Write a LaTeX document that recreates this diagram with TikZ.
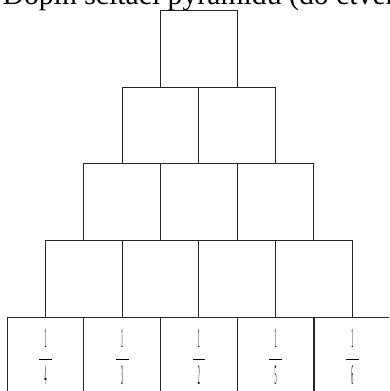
\documentclass[tikz,border=0pt]{standalone}
\usepackage{fontspec}
\setmainfont{Liberation Serif}
\usepackage{graphicx}
\tikzset{
  every picture/.style={line width=0.8pt},
  cell/.style={draw=black!85, minimum width=57.5pt, minimum height=57.5pt, inner sep=0pt, outer sep=0pt},
  heading/.style={font=\fontsize{22.3}{25}\selectfont, anchor=base west, inner sep=0pt},
}
% squeezed fraction in the bottom cells
\newcommand{\thinfrac}[1]{\fontsize{21}{24}\selectfont$\displaystyle\frac{\makebox[9.6pt]{\scalebox{0.14}[1]{1}}}{\makebox[9.6pt]{\scalebox{0.14}[1]{#1}}}$}

\begin{document}
\begin{tikzpicture}[x=0.75pt, y=-0.75pt]
  \useasboundingbox (0,0) rectangle (389,391);
  \clip (0,0) rectangle (389,391);
  \node[heading] (title) at (2,5) {Doplň sčítací pyramidu (do čtverečků};
  % the pyramid, top row first
  \foreach \r in {0,...,4} {
    \foreach \i in {0,...,\r} {
      \node[cell] (b\r\i) at ({198.9-(\r+1)*38.35+\i*76.7+38.35}, {10.7+76.6*\r+38.3}) {};
    }
  }
  % the given numbers in the bottom row
  \foreach \i/\d in {0/4, 1/3, 2/2, 3/5, 4/6}
    \node[inner sep=0pt] (f\i) at ([yshift=-1pt]b4\i.center) {\thinfrac{\d}};
\end{tikzpicture}
\end{document}
